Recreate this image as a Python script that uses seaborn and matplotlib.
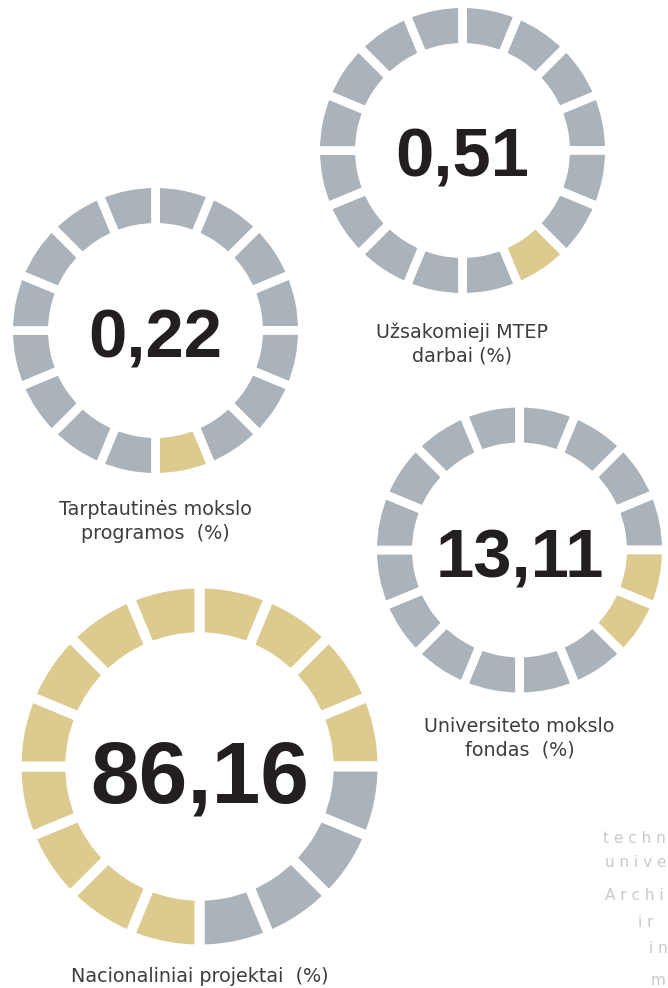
import matplotlib
matplotlib.use("Agg")
import matplotlib.pyplot as plt
import seaborn as sns

# Funding shares (%), one ring per source
values = ["0,51", "0,22", "13,11", "86,16"]
labels = [
    "Užsakomieji MTEP\ndarbai (%)",
    "Tarptautinės mokslo\nprogramos  (%)",
    "Universiteto mokslo\nfondas  (%)",
    "Nacionaliniai projektai  (%)",
]
# each ring is split into 16 equal segments, clockwise from 12 o'clock;
# these are the highlighted ones
highlighted = [
    [6],
    [7],
    [4, 5],
    [0, 1, 2, 3, 8, 9, 10, 11, 12, 13, 14, 15],
]
n_segments = 16

# layout in pixels (x, y from top), outer radius, number size
centers = [(462.5, 150.5), (155.5, 330.5), (519.5, 550.0), (199.5, 766.5)]
radii = [142.5, 142.5, 142.5, 178.0]
num_baseline = [177, 357, 578, 802]
num_size = [49.5, 49.5, 49.5, 63]
label_first_baseline = [338, 515, 732, 982]

W, H = 668, 988
GREY = "#AAB3BA"
GOLD = "#DDCA8E"
INK = "#231F20"
LABEL = "#3E3E3E"

sns.set_theme(style="white")
plt.rcParams["font.family"] = ["DejaVu Sans"]

fig = plt.figure(figsize=(W / 100, H / 100), dpi=100)
ax = fig.add_axes([0, 0, 1, 1])

px_to_pt = 72 / 100  # one data unit is one pixel

for i in range(len(values)):
    cx, cy = centers[i]
    R = radii[i]
    ring = 0.246 * R
    gap = 8.7 if R < 160 else 10.0
    cols = [GOLD if k in highlighted[i] else GREY for k in range(n_segments)]
    ax.pie(
        [1] * n_segments,
        colors=cols,
        center=(cx, H - cy),
        radius=R + gap / 2,
        startangle=90,
        counterclock=False,
        frame=True,
        wedgeprops=dict(width=ring + gap, edgecolor="white",
                        linewidth=gap * px_to_pt, joinstyle="miter"),
    )
    ax.text(cx, H - num_baseline[i], values[i], ha="center", va="baseline",
            fontsize=num_size[i], fontweight="bold", color=INK,
            family="Liberation Sans")
    lines = labels[i].split("\n")
    for j, line in enumerate(lines):
        ax.text(cx, H - (label_first_baseline[i] + 24 * j), line,
                ha="center", va="baseline", fontsize=13.8, color=LABEL,
                family="DejaVu Sans")

ax.set_xlim(0, W)
ax.set_ylim(0, H)
ax.set_aspect("equal")
ax.axis("off")

# letter-spaced fragments of text from the facing page, right margin
edge_text = [("t e c h n", 603, 843), ("u n i v e", 605, 867),
             ("A r c h i", 605, 900), ("i r", 638, 927),
             ("i n", 649, 953), ("m", 651, 985)]
for t, x, y in edge_text:
    ax.text(x, H - y, t, ha="left", va="baseline", fontsize=11,
            color="#C9C9C9", family="DejaVu Sans")

fig.savefig("out.png", dpi=100)
